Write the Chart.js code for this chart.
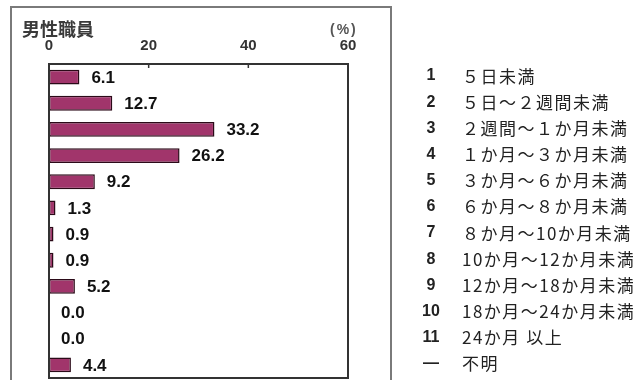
<!DOCTYPE html>
<html>
<head>
<meta charset="utf-8">
<script src="https://cdn.jsdelivr.net/npm/chart.js@4"></script>
<style>
  html, body { margin: 0; padding: 0; background: #fff; }
  .chart-container { width: 640px; height: 380px; }
</style>
</head>
<body>
<div class="chart-container">
  <canvas id="leave-chart" width="640" height="380"></canvas>
</div>
<script>
// 男性職員 — 休業期間別の割合 (%)
const codes = ['1', '2', '3', '4', '5', '6', '7', '8', '9', '10', '11', '—'];
const periods = [
  '５日未満',
  '５日～２週間未満',
  '２週間～１か月未満',
  '１か月～３か月未満',
  '３か月～６か月未満',
  '６か月～８か月未満',
  '８か月～10か月未満',
  '10か月～12か月未満',
  '12か月～18か月未満',
  '18か月～24か月未満',
  '24か月 以上',
  '不明'
];
const shares = [6.1, 12.7, 33.2, 26.2, 9.2, 1.3, 0.9, 0.9, 5.2, 0.0, 0.0, 4.4];
const xTicks = [0, 20, 40, 60];
const title = '男性職員';
const unit = '(%)';

const LABEL_FONT = 'bold 17px "Liberation Sans", Arial, sans-serif';
const TICK_FONT = 'bold 15px "Liberation Sans", Arial, sans-serif';
const CODE_FONT = 'bold 16px "Liberation Sans", Arial, sans-serif';
const JP_FONT = '"Noto Sans CJK JP", sans-serif';

// frames, axis ticks, title, value labels and the code list on the right
const decorations = {
  id: 'decorations',
  beforeDatasetsDraw(chart) {
    const { ctx } = chart;
    ctx.save();
    // outer frame
    ctx.strokeStyle = '#7a7a7a';
    ctx.lineWidth = 2;
    ctx.strokeRect(11, 7, 380, 390);
    ctx.restore();
  },
  afterDatasetsDraw(chart) {
    const { ctx, chartArea: a, scales } = chart;
    const x = scales.x;
    ctx.save();

    // plot box
    ctx.strokeStyle = '#333';
    ctx.lineWidth = 2;
    ctx.strokeRect(a.left, a.top, a.right - a.left, a.bottom - a.top);

    // tick marks and labels along the top
    ctx.lineWidth = 1.5;
    ctx.fillStyle = '#333';
    ctx.font = TICK_FONT;
    ctx.textAlign = 'center';
    ctx.textBaseline = 'middle';
    xTicks.forEach(v => {
      const px = x.getPixelForValue(v);
      if (v > 0 && v < 60) {
        ctx.beginPath();
        ctx.moveTo(px, a.top);
        ctx.lineTo(px, a.top + 4);
        ctx.stroke();
      }
      ctx.fillText(String(v), px, a.top - 18);
    });

    // title and unit
    ctx.font = 'bold 18px ' + JP_FONT;
    ctx.textAlign = 'left';
    ctx.fillStyle = '#3a3a3a';
    ctx.fillText(title, 22, 29);
    ctx.font = 'bold 14px "Liberation Sans", Arial, sans-serif';
    ctx.fillStyle = '#555';
    ctx.letterSpacing = '2px';
    ctx.fillText(unit, 330, 30);
    ctx.letterSpacing = '0px';

    // value labels and code list
    const bars = chart.getDatasetMeta(0).data;
    bars.forEach((bar, i) => {
      ctx.font = LABEL_FONT;
      ctx.fillStyle = '#111';
      ctx.textAlign = 'left';
      ctx.fillText(shares[i].toFixed(1), bar.x + 12, bar.y + 1);

      ctx.font = CODE_FONT;
      ctx.fillStyle = '#222';
      ctx.textAlign = 'center';
      ctx.fillText(codes[i], 431, bar.y - 1);

      ctx.font = '17px ' + JP_FONT;
      ctx.textAlign = 'left';
      ctx.letterSpacing = '1.5px';
      ctx.fillText(periods[i], 462, bar.y - 1);
      ctx.letterSpacing = '0px';
    });
    ctx.restore();
  }
};

const chartConfig = {
  type: 'bar',
  data: {
    labels: codes,
    datasets: [
      {
        label: '男性職員',
        data: shares,
        backgroundColor: '#a1356b',
        borderColor: '#2b0a18',
        borderWidth: ctx => (ctx.raw > 0 ? 1.5 : 0),
        borderSkipped: false,
        barPercentage: 1,
        categoryPercentage: 0.57
      }
    ]
  },
  options: {
    indexAxis: 'y',
    responsive: false,
    maintainAspectRatio: false,
    animation: false,
    events: [],
    layout: {
      padding: { top: 64, left: 49, right: 292, bottom: 2 }
    },
    scales: {
      x: { display: false, min: 0, max: 60 },
      y: { display: false }
    },
    plugins: {
      legend: { display: false },
      tooltip: { enabled: false }
    }
  },
  plugins: [decorations]
};

new Chart(document.getElementById('leave-chart'), chartConfig);
</script>
</body>
</html>
